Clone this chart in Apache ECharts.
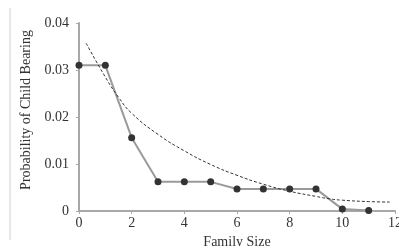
<!DOCTYPE html>
<html><head><meta charset="utf-8">
<script src="https://cdn.jsdelivr.net/npm/echarts@6/dist/echarts.min.js"></script>
<style>html,body{margin:0;padding:0;background:#fff}#c{width:399px;height:246px}</style>
</head><body><div id="c"></div>
<script>
const familySize = [0,1,2,3,4,5,6,7,8,9,10,11];
const observed = [0.031,0.031,0.0156,0.0062,0.0062,0.0062,0.0047,0.0047,0.0047,0.0047,0.0004,0.0001];
const fitX = [0.27,1,1.5,2,3,4,5,6,7,8,9,9.5,10,11,11.8];
const fitY = [0.0357,0.0285,0.0242,0.0208,0.0163,0.0128,0.0099,0.0076,0.0057,0.0042,0.0031,0.0026,0.0023,0.0020,0.0019];
const xTicks = {min:0,max:12,interval:2};
const yTicks = {min:0,max:0.04,interval:0.01};

const chart = echarts.init(document.getElementById('c'));
const font = '"Liberation Serif","DejaVu Serif",serif';
chart.setOption({
  animation:false,
  grid:{left:79,right:4,top:23,bottom:35,outerBoundsMode:'none',containLabel:false},
  graphic:[{type:'line',shape:{x1:10,y1:8,x2:10,y2:240},style:{stroke:'#d0d0d0',lineWidth:1}}],
  xAxis:{type:'value',min:xTicks.min,max:xTicks.max,interval:xTicks.interval,
    name:'Family Size',nameLocation:'middle',nameGap:24,
    nameTextStyle:{fontFamily:font,fontSize:14,color:'#333'},
    axisLine:{lineStyle:{color:'#a8a8a8',width:2}},
    axisTick:{show:true,length:3,lineStyle:{color:'#a8a8a8'}},
    axisLabel:{fontFamily:font,fontSize:14,color:'#333',margin:5},
    splitLine:{show:false}},
  yAxis:{type:'value',min:yTicks.min,max:yTicks.max,interval:yTicks.interval,
    name:'Probability of Child Bearing',nameLocation:'middle',nameGap:45,
    nameTextStyle:{fontFamily:font,fontSize:14,color:'#333',padding:[0,0,0,14]},
    axisLine:{show:true,lineStyle:{color:'#a8a8a8',width:2}},
    axisTick:{show:true,length:3,lineStyle:{color:'#a8a8a8'}},
    axisLabel:{fontFamily:font,fontSize:14,color:'#333',margin:10,
      formatter:v=>v===0?'0':v.toFixed(2)},
    splitLine:{show:false}},
  series:[
    {type:'line',data:fitX.map((x,i)=>[x,fitY[i]]),smooth:true,showSymbol:false,
     lineStyle:{color:'#333',width:1,type:[3,2]},z:3},
    {type:'line',data:familySize.map((x,i)=>[x,observed[i]]),symbol:'circle',symbolSize:7,
     lineStyle:{color:'#9a9a9a',width:2},itemStyle:{color:'#333'},z:2}
  ]
});
</script></body></html>
